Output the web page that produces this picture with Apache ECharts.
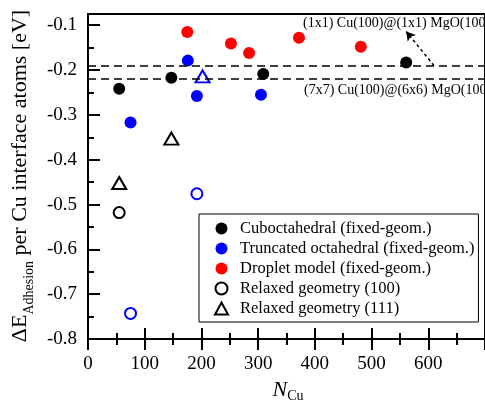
<!DOCTYPE html>
<html>
<head>
<meta charset="utf-8">
<script src="https://cdn.jsdelivr.net/npm/echarts@6/dist/echarts.min.js"></script>
<style>
  html, body { margin: 0; padding: 0; background: #fff; }
  #chart { width: 485px; height: 408px; }
</style>
</head>
<body>
<div id="chart"></div>
<script>
// 数据
const seriesNames = [
  'Cuboctahedral (fixed-geom.)',
  'Truncated octahedral (fixed-geom.)',
  'Droplet model (fixed-geom.)',
  'Relaxed geometry (100)',
  'Relaxed geometry (111)'
]
const legendIcons = ['circle', 'circle', 'circle', 'emptyCircle', 'emptyTriangle']
const cuboData = [[55, -0.242], [147, -0.217], [309, -0.209], [561, -0.183]]
const truncData = [[75, -0.317], [176, -0.179], [192, -0.258], [305, -0.255]]
const dropletData = [[175, -0.115], [252, -0.141], [284, -0.162], [372, -0.128], [481, -0.148]]
const relaxed100 = [[55, -0.518], [75, -0.743], [192, -0.476]]
const relaxed100Blue = [false, true, true]
const relaxed111 = [[55, -0.452], [147, -0.353], [202, -0.214]]
const relaxed111Blue = [false, false, true]
// 两条参考虚线 (1x1) / (7x7)
const refLines = [-0.19, -0.218]
const arrowLine = [[610, -0.19], [561, -0.114]]
const annotations = ['(1x1) Cu(100)@(1x1) MgO(100)', '(7x7) Cu(100)@(6x6) MgO(100)']

const SERIF = 'Liberation Serif'
const BLUE = '#0000ff'
const RED = '#ff0000'

const chart = echarts.init(document.getElementById('chart'))

// 空心点: 个别点为蓝色
const hollow = (data, blue) => data.map((d, i) => blue[i]
  ? { value: d, itemStyle: { color: BLUE, borderColor: BLUE } }
  : d)

const gridBox = { left: 88, top: 14, right: -37, bottom: 69 }

const xBase = {
  type: 'value', min: 0, max: 700, interval: 100,
  splitLine: { show: false }
}
const yBase = {
  type: 'value', min: -0.8, max: -0.075,
  splitLine: { show: false }
}

const option = {
  animation: false,
  grid: [
    Object.assign({ show: true, borderColor: '#000', borderWidth: 2 }, gridBox),
    Object.assign({}, gridBox)
  ],
  xAxis: [
    Object.assign({}, xBase, {
      gridIndex: 0,
      position: 'bottom',
      axisLine: { lineStyle: { color: '#000', width: 2 } },
      axisTick: { inside: false, length: 11, lineStyle: { color: '#000', width: 2 } },
      minorTick: { show: true, splitNumber: 2, length: 6, lineStyle: { color: '#000', width: 2 } },
      axisLabel: {
        color: '#000', fontFamily: SERIF, fontSize: 19, margin: 16,
        showMaxLabel: false
      }
    }),
    // 内侧刻度, 与外侧一起形成穿过轴线的刻度
    Object.assign({}, xBase, {
      gridIndex: 1,
      position: 'bottom',
      axisLine: { show: false },
      axisTick: { inside: true, length: 11, lineStyle: { color: '#000', width: 2 } },
      minorTick: { show: true, splitNumber: 2, length: 6, lineStyle: { color: '#000', width: 2 } },
      axisLabel: { show: false }
    })
  ],
  yAxis: [
    Object.assign({}, yBase, {
      gridIndex: 0,
      interval: 0.1,
      axisLine: { lineStyle: { color: '#000', width: 2 } },
      axisTick: { inside: true, length: 12, lineStyle: { color: '#000', width: 2 } },
      axisLabel: {
        color: '#000', fontFamily: SERIF, fontSize: 19, margin: 11,
        showMaxLabel: false,
        formatter: v => v.toFixed(1)
      }
    }),
    Object.assign({}, yBase, {
      gridIndex: 1,
      interval: 0.05,
      axisLine: { show: false },
      axisTick: { inside: true, length: 6, lineStyle: { color: '#000', width: 2 } },
      axisLabel: { show: false }
    })
  ],
  legend: {
    data: seriesNames.map((n, i) => ({ name: n, icon: legendIcons[i] })),
    orient: 'vertical',
    left: 199, top: 214,
    itemWidth: 13, itemHeight: 12, itemGap: 3,
    padding: [6, 4, 5, 15],
    borderColor: '#000', borderWidth: 1,
    selectedMode: false,
    textStyle: { color: '#000', fontFamily: SERIF, fontSize: 16.5, padding: [0, 0, 0, 7] }
  },
  series: [
    {
      name: seriesNames[0], type: 'scatter', symbol: 'circle', symbolSize: 12,
      itemStyle: { color: '#000', opacity: 1 }, data: cuboData, z: 3,
      markLine: {
        silent: true, symbol: 'none', animation: false,
        label: { show: false },
        lineStyle: { color: '#000', type: [8, 5], width: 1.5 },
        data: refLines.map(v => ({ yAxis: v }))
      }
    },
    {
      name: seriesNames[1], type: 'scatter', symbol: 'circle', symbolSize: 12,
      itemStyle: { color: BLUE, opacity: 1 }, data: truncData, z: 3
    },
    {
      name: seriesNames[2], type: 'scatter', symbol: 'circle', symbolSize: 12,
      itemStyle: { color: RED, opacity: 1 }, data: dropletData, z: 3,
      markLine: {
        silent: true, symbol: ['none', 'arrow'], symbolSize: [8, 9], animation: false,
        label: { show: false },
        lineStyle: { color: '#000', type: [3, 3], width: 1.5 },
        data: [[{ coord: arrowLine[0] }, { coord: arrowLine[1] }]]
      }
    },
    {
      name: seriesNames[3], type: 'scatter', symbol: 'emptyCircle', symbolSize: 11,
      itemStyle: { color: '#000', borderColor: '#000', borderWidth: 1.6, opacity: 1 },
      data: hollow(relaxed100, relaxed100Blue), z: 3
    },
    {
      name: seriesNames[4], type: 'scatter', symbol: 'emptyTriangle', symbolSize: [14, 12],
      itemStyle: { color: '#000', borderColor: '#000', borderWidth: 1.6, opacity: 1 },
      data: hollow(relaxed111, relaxed111Blue), z: 3
    }
  ],
  graphic: [
    {
      type: 'text', x: 20.5, y: 176, rotation: Math.PI / 2, silent: true,
      style: {
        text: '{a|ΔE}{b|Adhesion}{a| per Cu interface atoms [eV]}',
        align: 'center', verticalAlign: 'middle',
        rich: {
          a: { fontFamily: SERIF, fontSize: 22, lineHeight: 32, fill: '#000' },
          b: { fontFamily: SERIF, fontSize: 14, lineHeight: 14, verticalAlign: 'bottom', fill: '#000' }
        }
      }
    },
    {
      type: 'text', x: 288, y: 390, silent: true,
      style: {
        text: '{n|N}{s|Cu}',
        align: 'center', verticalAlign: 'middle',
        rich: {
          n: { fontFamily: SERIF, fontStyle: 'italic', fontSize: 22, lineHeight: 26, fill: '#000' },
          s: { fontFamily: SERIF, fontSize: 14, lineHeight: 16, verticalAlign: 'bottom', fill: '#000' }
        }
      }
    },
    {
      type: 'text', x: 303, y: 23, silent: true,
      style: { text: annotations[0], font: '14px "Liberation Serif"', fill: '#000', align: 'left', verticalAlign: 'middle' }
    },
    {
      type: 'text', x: 304, y: 90, silent: true,
      style: { text: annotations[1], font: '14px "Liberation Serif"', fill: '#000', align: 'left', verticalAlign: 'middle' }
    }
  ]
}

chart.setOption(option)
</script>
</body>
</html>
